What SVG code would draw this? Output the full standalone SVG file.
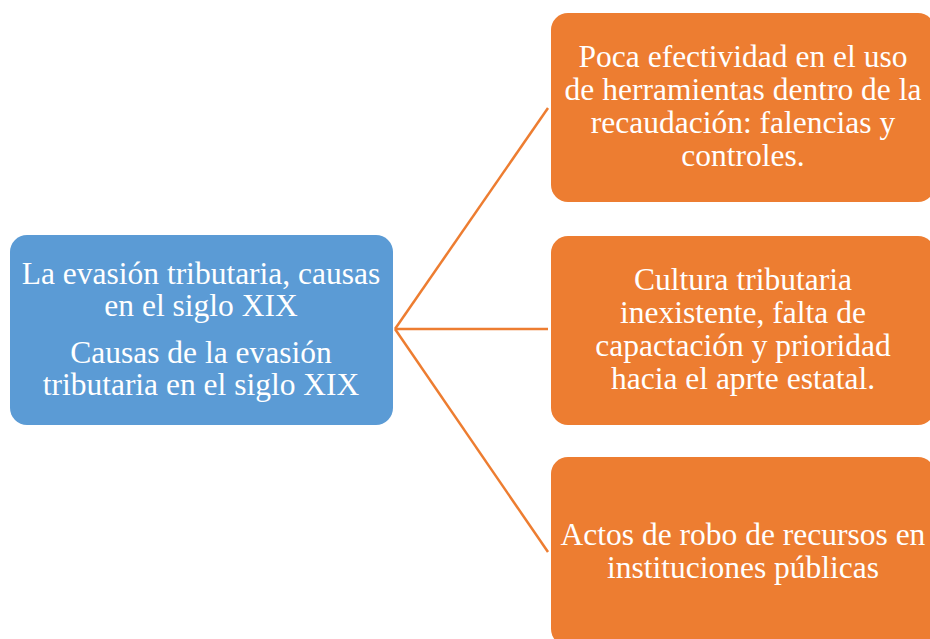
<svg xmlns="http://www.w3.org/2000/svg" width="930" height="639" viewBox="0 0 930 639">
<style>
.blue{fill:#5B9BD5}
.orange{fill:#ED7D31}
.t{font-family:"Liberation Serif","Times New Roman",serif;font-size:31.5px;fill:#fff;text-anchor:middle}
.c{stroke:#ED7D31;stroke-width:2.5;fill:none}
</style>
<rect width="930" height="639" fill="#fff"/>
<g id="connectors">
<line class="c" x1="395" y1="329" x2="548" y2="108"/>
<line class="c" x1="395" y1="329" x2="548" y2="329"/>
<line class="c" x1="395" y1="329" x2="548" y2="552"/>
</g>
<g id="root">
<rect class="blue" x="10" y="235" width="383" height="190" rx="17"/>
<text class="t" x="201" y="284">La evasión tributaria, causas</text>
<text class="t" x="201" y="316">en el siglo XIX</text>
<text class="t" x="201" y="363">Causas de la evasión</text>
<text class="t" x="201" y="395">tributaria en el siglo XIX</text>
</g>
<g id="node1">
<rect class="orange" x="551" y="13" width="384" height="189" rx="17"/>
<text class="t" x="743" y="67">Poca efectividad en el uso</text>
<text class="t" x="743" y="100">de herramientas dentro de la</text>
<text class="t" x="743" y="133">recaudación: falencias y</text>
<text class="t" x="743" y="166">controles.</text>
</g>
<g id="node2">
<rect class="orange" x="551" y="236" width="384" height="189" rx="17"/>
<text class="t" x="743" y="290">Cultura tributaria</text>
<text class="t" x="743" y="323">inexistente, falta de</text>
<text class="t" x="743" y="356">capactación y prioridad</text>
<text class="t" x="743" y="389">hacia el aprte estatal.</text>
</g>
<g id="node3">
<rect class="orange" x="551" y="457" width="384" height="189" rx="17"/>
<text class="t" x="743" y="545">Actos de robo de recursos en</text>
<text class="t" x="743" y="578">instituciones públicas</text>
</g>
</svg>
